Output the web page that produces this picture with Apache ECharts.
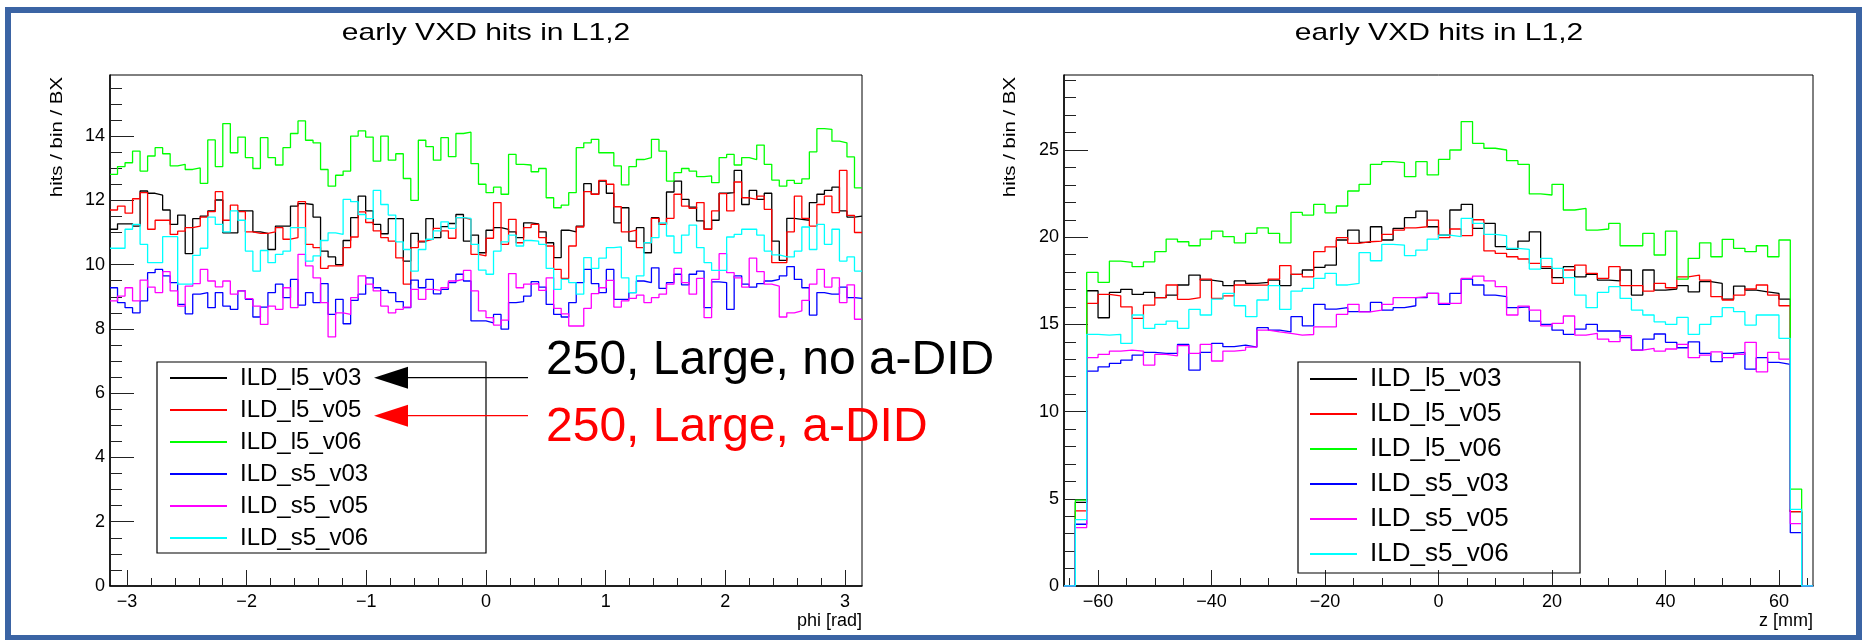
<!DOCTYPE html>
<html><head><meta charset="utf-8">
<script src="https://cdn.jsdelivr.net/npm/echarts@6/dist/echarts.min.js"></script>
<style>html,body{margin:0;padding:0;background:#fff}#c{width:1862px;height:640px}</style>
</head><body><div id="c"></div>
<script>
// ---------------- data ----------------
const SERIES_NAMES = ['ILD_l5_v03', 'ILD_l5_v05', 'ILD_l5_v06', 'ILD_s5_v03', 'ILD_s5_v05', 'ILD_s5_v06'];
const TITLE_TEXT = 'early VXD hits in L1,2';
const Y_TITLE = 'hits / bin / BX';
const LEFT_X_TITLE = 'phi [rad]';
const RIGHT_X_TITLE = 'z [mm]';
const NOTE_BLACK = '250, Large, no a-DID';
const NOTE_RED = '250, Large, a-DID';

// left panel: 100 bins in phi from -pi to pi
const PHI_L5_V03 = [11.10,11.27,11.27,11.20,12.29,12.22,12.16,11.70,11.25,11.54,10.34,11.43,11.51,11.67,12.01,10.99,10.99,11.67,11.67,11.02,10.97,10.47,11.20,11.20,11.82,
 11.90,11.87,11.48,10.42,10.24,10.00,10.75,11.46,12.13,11.67,11.25,10.96,11.43,11.43,10.11,10.97,10.71,11.43,10.84,11.18,11.28,11.56,10.73,10.92,10.37,
 11.07,11.15,11.10,11.02,10.84,11.30,11.27,11.02,10.68,10.22,11.07,11.02,11.20,12.52,12.19,12.60,12.22,11.30,11.77,10.73,11.15,10.37,11.46,11.25,12.26,
 12.60,12.03,11.79,11.36,11.10,11.38,12.22,12.24,12.93,11.87,12.31,12.03,12.22,10.73,10.13,11.44,11.41,11.38,11.93,12.19,12.31,12.41,11.67,11.48,11.51];
const PHI_L5_V05 = [11.70,11.82,11.60,12.05,12.24,11.10,11.38,11.38,10.94,11.04,11.15,11.20,11.48,11.65,12.27,11.38,11.85,11.65,11.02,10.97,10.97,11.02,11.15,10.79,10.84,
 11.96,10.63,10.53,9.88,9.96,9.96,10.53,10.86,11.64,11.31,11.05,10.84,10.73,10.21,9.39,10.53,10.73,10.79,11.13,11.05,10.82,11.46,11.41,10.32,10.27,
 10.82,11.93,10.63,11.41,10.68,11.15,11.25,10.84,10.58,9.85,9.57,10.58,11.17,12.27,12.19,12.62,12.50,11.80,11.02,11.07,10.53,10.68,11.44,11.25,11.44,
 12.19,11.82,11.75,11.93,11.10,11.67,12.21,11.67,12.57,12.08,12.03,12.13,11.72,10.06,10.06,11.02,12.13,11.44,11.20,11.87,12.13,11.62,12.93,11.53,11.00];
const PHI_L5_V06 = [12.81,13.05,13.17,13.53,12.91,13.38,13.64,13.45,13.07,13.12,12.96,13.01,12.53,13.88,13.05,14.39,13.48,13.97,13.33,12.99,13.95,13.33,13.10,13.64,14.08,
 14.47,13.87,13.79,12.96,12.44,12.78,12.91,14.00,14.16,13.97,13.22,14.00,13.25,13.45,12.68,12.00,13.87,13.67,13.25,13.95,13.36,14.08,14.12,13.14,12.50,
 12.24,12.41,12.19,13.43,13.12,13.10,12.89,12.99,12.08,11.77,11.85,12.24,13.64,13.79,13.90,13.48,13.48,13.07,12.48,13.05,13.27,13.33,13.90,13.53,12.60,
 12.86,12.99,12.91,12.74,12.76,12.55,13.33,13.43,13.10,13.33,13.27,13.72,13.12,12.63,12.44,12.62,12.53,12.67,13.51,14.23,14.21,13.84,13.79,13.35,12.39];
const PHI_S5_V03 = [9.28,8.82,8.66,8.50,8.87,9.75,9.85,9.65,9.44,8.76,8.47,9.08,9.13,8.66,9.13,8.71,8.61,9.18,8.92,8.37,8.68,9.13,9.39,8.97,9.54,
 8.74,9.13,8.82,9.41,8.45,8.92,8.16,8.89,9.08,9.59,9.28,9.20,9.13,8.85,8.66,9.52,9.28,9.54,9.09,9.23,9.44,9.70,9.49,8.25,8.25,
 8.19,8.45,7.99,8.82,8.85,9.02,9.47,9.30,8.76,8.45,8.37,8.82,9.44,9.85,9.41,9.13,9.85,8.92,8.92,9.13,9.49,9.44,9.90,9.26,9.44,
 9.70,9.37,9.70,9.80,8.66,9.46,9.44,8.61,9.65,9.39,9.30,9.41,9.49,9.54,9.65,9.94,9.54,9.28,8.43,9.13,9.08,9.08,9.30,8.97,8.95];
const PHI_S5_V05 = [8.87,9.02,9.28,8.87,9.52,9.30,9.13,9.78,9.18,8.71,9.33,9.41,9.85,9.49,9.31,9.49,9.08,9.18,8.94,8.71,8.14,8.71,8.61,9.28,8.66,
 10.32,9.96,9.59,8.82,7.75,8.50,8.45,8.97,9.65,9.39,9.18,8.71,8.50,8.61,8.68,9.23,8.92,9.23,9.20,9.28,9.49,9.54,9.82,9.18,8.56,
 8.35,8.12,8.27,9.72,9.28,9.39,9.41,9.20,9.59,8.64,8.47,8.09,8.09,8.64,9.10,9.28,9.51,8.68,8.87,8.95,9.05,8.82,8.97,9.08,9.39,
 9.88,9.44,9.08,9.57,8.35,9.54,10.34,9.75,9.59,9.30,10.20,9.78,9.39,9.33,8.37,8.50,8.56,8.89,9.39,9.85,9.30,9.59,8.82,9.37,8.30];
const PHI_S5_V06 = [10.51,10.51,11.10,11.25,10.63,10.06,10.06,10.87,10.87,9.39,9.39,10.29,10.51,11.48,11.25,11.02,11.67,11.38,10.42,9.80,10.44,10.06,10.32,10.42,11.15,
 11.15,10.11,10.27,10.75,10.99,10.94,12.03,11.96,11.56,11.43,12.31,11.87,11.54,10.71,10.47,9.80,10.47,10.79,11.05,11.33,11.13,11.46,11.44,10.63,9.83,
 9.70,10.42,10.71,10.92,10.58,10.75,10.73,10.63,9.88,9.23,9.54,9.44,9.08,10.22,9.88,10.20,10.53,10.55,9.59,9.13,9.65,10.68,10.84,11.30,10.89,
 10.37,10.92,11.23,10.53,10.06,9.82,9.82,10.86,10.94,11.10,11.10,10.92,10.42,10.30,10.24,10.24,10.42,11.17,10.47,11.25,10.63,11.10,10.11,10.24,9.80];

// right panel: 2 mm bins from -66 to 66; outer bins empty, edge bins (-64..-62, 62..64), 62 central bins (-62..62)
const Z_L5_V03 = [16.93,15.38,16.84,17.01,16.72,16.84,16.53,16.68,17.26,17.83,17.54,17.45,17.22,17.49,17.35,
 17.41,17.54,17.22,17.87,18.12,18.27,18.40,19.84,20.41,19.70,20.60,19.84,20.51,21.12,21.50,20.60,
 20.12,21.56,21.88,20.51,20.79,19.46,19.32,19.78,20.31,18.21,17.68,18.31,17.73,17.87,17.54,17.50,
 18.12,16.68,18.12,16.97,17.03,17.22,16.87,17.45,17.35,16.45,17.20,16.97,16.87,16.78,16.45];
const Z_L5_V05 = [16.20,16.72,16.64,16.01,15.34,16.11,16.53,17.26,16.43,16.53,17.60,16.49,16.64,17.26,17.25,
 17.26,17.60,18.37,17.87,17.73,19.17,19.45,19.97,19.65,19.74,19.78,20.16,20.41,20.54,20.60,20.98,
 19.97,20.47,20.09,21.00,19.21,19.07,18.88,18.75,18.50,18.31,17.35,18.12,18.40,17.93,17.64,18.31,
 17.22,17.22,16.91,17.35,17.10,17.73,17.83,17.54,16.59,16.40,16.68,17.03,17.26,16.68,16.07];
const Z_L5_V06 = [17.98,17.41,18.63,18.56,18.31,18.59,19.17,19.89,19.74,19.51,19.89,20.35,20.03,19.68,20.22,
 20.54,20.22,19.68,21.42,21.27,21.88,21.40,21.79,22.65,23.03,24.18,24.33,24.27,23.47,24.33,23.57,
 24.46,25.00,26.63,25.38,25.10,25.00,24.39,24.18,22.48,22.42,23.03,21.56,21.65,20.41,20.47,20.79,
 19.51,19.51,20.22,18.98,20.35,17.60,18.79,19.68,18.88,19.88,19.36,19.17,19.51,18.88,19.84];
const Z_S5_V03 = [12.32,12.57,12.76,12.95,13.24,13.39,13.34,13.34,13.85,12.38,13.39,13.91,13.72,13.81,13.70,
 14.81,14.67,14.57,15.44,14.92,16.15,15.88,15.96,15.73,15.73,16.26,15.82,15.96,16.07,16.53,16.78,
 16.15,16.78,17.60,17.26,16.68,16.59,15.96,16.01,15.19,15.00,14.67,14.43,14.73,15.00,14.62,14.62,
 14.24,13.53,14.16,14.45,13.97,13.66,14.00,13.34,12.86,13.34,13.39,12.44,13.09,12.82,12.71];
const Z_S5_V05 = [13.09,13.28,13.47,13.53,13.47,12.67,13.28,13.20,13.78,13.34,13.85,12.90,13.47,13.53,13.70,
 14.67,14.57,14.48,14.38,14.42,14.86,14.86,15.57,16.15,15.72,15.82,16.15,16.53,16.53,16.59,16.78,
 16.20,16.20,17.64,17.77,17.49,17.16,15.54,16.05,15.82,14.92,15.06,15.48,14.39,14.48,14.16,14.01,
 14.35,13.53,13.62,13.47,13.59,13.85,13.09,13.24,13.43,13.09,13.28,13.97,12.28,13.39,13.01];
const Z_S5_V06 = [14.43,14.39,14.43,13.91,15.54,14.77,15.00,15.19,14.77,15.86,15.54,16.45,16.78,16.07,15.44,
 16.40,17.22,15.86,16.91,17.07,17.64,17.93,17.26,17.35,19.11,18.65,19.59,19.55,18.94,19.26,19.89,
 20.12,20.03,21.08,20.79,20.16,20.09,19.36,19.30,18.17,18.79,18.21,17.68,16.68,15.96,16.84,17.16,
 16.49,15.82,15.54,15.15,15.00,15.40,14.43,15.00,15.44,15.96,15.73,14.96,15.54,15.54,14.20];
// edge bins, in SERIES_NAMES order
const Z_EDGE_LOW  = [4.80, 4.31, 4.92, 3.54, 3.35, 3.81];
const Z_EDGE_HIGH = [4.26, 4.26, 5.56, 3.06, 3.58, 4.39];

const PHI_MAJOR_TICKS = [-3, -2, -1, 0, 1, 2, 3];
const Z_MAJOR_TICKS = [-60, -40, -20, 0, 20, 40, 60];
const LEFT_Y_TICKS = [0, 2, 4, 6, 8, 10, 12, 14];
const RIGHT_Y_TICKS = [0, 5, 10, 15, 20, 25];

// ---------------- style ----------------
const COLORS = ['#000000', '#ff0000', '#00ff00', '#0000ff', '#ff00ff', '#00ffff'];
const FONT = 'Liberation Sans, Arial, sans-serif';

// ---------------- build ----------------
const phiSeries = [PHI_L5_V03, PHI_L5_V05, PHI_L5_V06, PHI_S5_V03, PHI_S5_V05, PHI_S5_V06];
const zSeries = [Z_L5_V03, Z_L5_V05, Z_L5_V06, Z_S5_V03, Z_S5_V05, Z_S5_V06];

function stepPoints(x0, w, vals) {
  const pts = [];
  vals.forEach((v, i) => { pts.push([x0 + i * w, v]); pts.push([x0 + (i + 1) * w, v]); });
  return pts;
}
function range(a, b, s, skip) {
  const out = [];
  for (let k = 0; a + k * s <= b + 1e-9; k++) {
    const v = Math.round((a + k * s) * 1000) / 1000;
    if (!skip || !skip.some(t => Math.abs(t - v) < 1e-6)) out.push(v);
  }
  return out;
}
const fmt = v => (v < 0 ? '\u2212' : '') + Math.abs(Math.round(v * 1000) / 1000);

const PHI_MIN = -Math.PI, PHI_MAX = Math.PI, PHI_W = 2 * Math.PI / PHI_L5_V03.length;
const Z_MIN = -66, Z_MAX = 66, Z_W = 2;
const LEFT_YMAX = 15.9, RIGHT_YMAX = 29.3;

function xMajor(grid, min, max, ticks) {
  return { type: 'value', gridIndex: grid, min, max, position: 'bottom',
    axisLine: { show: true, onZero: false, lineStyle: { color: '#000', width: 1.5 } },
    axisTick: { show: true, inside: true, length: 16, customValues: ticks, lineStyle: { color: '#222', width: 1 } },
    axisLabel: { show: true, customValues: ticks, formatter: fmt, fontSize: 18, fontFamily: FONT, color: '#000', margin: 7 },
    splitLine: { show: false } };
}
function xMinor(grid, min, max, ticks) {
  return { type: 'value', gridIndex: grid, min, max, position: 'bottom',
    axisLine: { show: false, onZero: false },
    axisTick: { show: true, inside: true, length: 8, customValues: ticks, lineStyle: { color: '#222', width: 1 } },
    axisLabel: { show: false }, splitLine: { show: false } };
}
function yMajor(grid, max, ticks) {
  return { type: 'value', gridIndex: grid, min: 0, max, position: 'left',
    axisLine: { show: true, onZero: false, lineStyle: { color: '#000', width: 1.5 } },
    axisTick: { show: true, inside: true, length: 24, customValues: ticks, lineStyle: { color: '#222', width: 1 } },
    axisLabel: { show: true, customValues: ticks, formatter: fmt, fontSize: 18, fontFamily: FONT, color: '#000', margin: 5 },
    splitLine: { show: false } };
}
function yMinor(grid, max, ticks) {
  return { type: 'value', gridIndex: grid, min: 0, max, position: 'left',
    axisLine: { show: false, onZero: false },
    axisTick: { show: true, inside: true, length: 12, customValues: ticks, lineStyle: { color: '#222', width: 1 } },
    axisLabel: { show: false }, splitLine: { show: false } };
}

const series = [];
phiSeries.forEach((vals, i) => series.push({
  name: SERIES_NAMES[i], type: 'line', xAxisIndex: 0, yAxisIndex: 0,
  data: stepPoints(PHI_MIN, PHI_W, vals), showSymbol: false, symbol: 'none', clip: true,
  color: COLORS[i], lineStyle: { color: COLORS[i], width: 1.3 }, silent: true
}));
zSeries.forEach((vals, i) => {
  const bins = [0, Z_EDGE_LOW[i]].concat(vals, [Z_EDGE_HIGH[i], 0]);
  series.push({
    name: SERIES_NAMES[i], type: 'line', xAxisIndex: 2, yAxisIndex: 2,
    data: stepPoints(Z_MIN, Z_W, bins), showSymbol: false, symbol: 'none', clip: true,
    color: COLORS[i], lineStyle: { color: COLORS[i], width: 1.3 }, silent: true
  });
});

function legendAt(left, top, fontSize, itemWidth, gap) {
  return { show: true, orient: 'vertical', left, top, padding: 0, itemGap: gap,
    itemWidth, itemHeight: 2, icon: 'rect', selectedMode: false,
    data: SERIES_NAMES,
    textStyle: { fontSize, fontFamily: FONT, color: '#000', padding: [0, 0, 0, 8] } };
}

const option = {
  backgroundColor: '#ffffff',
  animation: false,
  grid: [
    { left: 110, right: 1000, top: 75, bottom: 54, show: true, borderColor: '#000', borderWidth: 1, backgroundColor: 'transparent', containLabel: false },
    { left: 1064, right: 49, top: 75, bottom: 54, show: true, borderColor: '#000', borderWidth: 1, backgroundColor: 'transparent', containLabel: false }
  ],
  xAxis: [
    xMajor(0, PHI_MIN, PHI_MAX, PHI_MAJOR_TICKS),
    xMinor(0, PHI_MIN, PHI_MAX, range(-3, 3, 0.2, PHI_MAJOR_TICKS)),
    xMajor(1, Z_MIN, Z_MAX, Z_MAJOR_TICKS),
    xMinor(1, Z_MIN, Z_MAX, range(-65, 65, 5, Z_MAJOR_TICKS))
  ],
  yAxis: [
    yMajor(0, LEFT_YMAX, LEFT_Y_TICKS),
    yMinor(0, LEFT_YMAX, range(0, 15.5, 0.5, LEFT_Y_TICKS)),
    yMajor(1, RIGHT_YMAX, RIGHT_Y_TICKS),
    yMinor(1, RIGHT_YMAX, range(0, 29, 1, RIGHT_Y_TICKS))
  ],
  legend: [
    legendAt(170, 366, 24, 57, 8),
    legendAt(1310, 366, 26, 47, 9)
  ],
  series,
  graphic: [
    { type: 'rect', z: 0, shape: { x: 8, y: 10, width: 1851, height: 628 }, style: { fill: 'none', stroke: '#3b64a4', lineWidth: 6 } },
    { type: 'rect', z: 50, shape: { x: 157, y: 362, width: 329, height: 191 }, style: { fill: 'none', stroke: '#000', lineWidth: 1.2 } },
    { type: 'rect', z: 50, shape: { x: 1298, y: 362, width: 282, height: 211 }, style: { fill: 'none', stroke: '#000', lineWidth: 1.2 } },
    { type: 'text', x: 486, y: 33, scaleX: 1.25, style: { text: TITLE_TEXT, font: '24px ' + FONT, fill: '#000', textAlign: 'center', textVerticalAlign: 'middle' } },
    { type: 'text', x: 1439, y: 33, scaleX: 1.25, style: { text: TITLE_TEXT, font: '24px ' + FONT, fill: '#000', textAlign: 'center', textVerticalAlign: 'middle' } },
    { type: 'text', x: 57, y: 77, rotation: Math.PI / 2, scaleX: 1.2, style: { text: Y_TITLE, font: '17px ' + FONT, fill: '#000', textAlign: 'right', textVerticalAlign: 'middle' } },
    { type: 'text', x: 1010, y: 77, rotation: Math.PI / 2, scaleX: 1.2, style: { text: Y_TITLE, font: '17px ' + FONT, fill: '#000', textAlign: 'right', textVerticalAlign: 'middle' } },
    { type: 'text', x: 862, y: 621, style: { text: LEFT_X_TITLE, font: '18px ' + FONT, fill: '#000', textAlign: 'right', textVerticalAlign: 'middle' } },
    { type: 'text', x: 1813, y: 621, style: { text: RIGHT_X_TITLE, font: '18px ' + FONT, fill: '#000', textAlign: 'right', textVerticalAlign: 'middle' } },
    { type: 'text', x: 546, y: 361, z: 60, style: { text: NOTE_BLACK, font: '48px ' + FONT, fill: '#000', textAlign: 'left', textVerticalAlign: 'middle' } },
    { type: 'text', x: 546, y: 428, z: 60, style: { text: NOTE_RED, font: '48px ' + FONT, fill: '#ff0000', textAlign: 'left', textVerticalAlign: 'middle' } },
    { type: 'line', z: 60, shape: { x1: 528, y1: 377.7, x2: 400, y2: 377.7 }, style: { stroke: '#000', lineWidth: 1.3 } },
    { type: 'polygon', z: 60, shape: { points: [[374, 377.7], [408, 366.7], [408, 388.7]] }, style: { fill: '#000' } },
    { type: 'line', z: 60, shape: { x1: 528, y1: 415.7, x2: 400, y2: 415.7 }, style: { stroke: '#ff0000', lineWidth: 1.3 } },
    { type: 'polygon', z: 60, shape: { points: [[374, 415.7], [408, 404.7], [408, 426.7]] }, style: { fill: '#ff0000' } }
  ]
};

const chart = echarts.init(document.getElementById('c'), null, { renderer: 'canvas' });
chart.setOption(option);
</script>
</body></html>
